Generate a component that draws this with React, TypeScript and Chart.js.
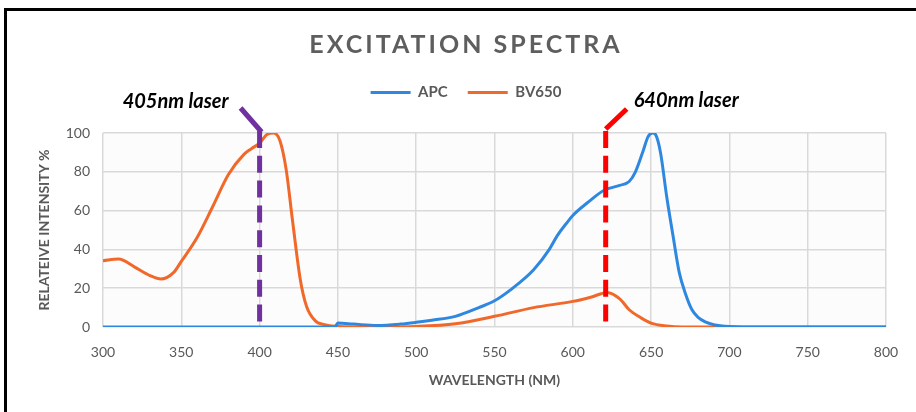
import React, { useEffect, useRef } from "react";
import { Chart, registerables } from "chart.js";

Chart.register(...registerables);

// ---- data ----
const CHART_TITLE = "EXCITATION SPECTRA";
const X_TITLE = "WAVELENGTH (NM)";
const Y_TITLE = "RELATEIVE INTENSITY %";
const SERIES_NAMES = ["APC", "BV650"];
const SERIES_COLORS = ["#2f88e0", "#f0692a"];

const APC_WL = [300, 448, 450, 460, 475, 490, 500, 510, 525, 540, 550, 560, 575, 585, 590, 596, 600, 610, 620, 630, 636, 640, 645, 648, 651, 653, 656, 660, 664, 668, 672, 676, 680, 685, 690, 700, 720, 800];
const APC_VAL = [0, 0, 2, 1.5, 0.8, 1.5, 2.4, 3.5, 5.5, 10, 13.5, 19, 29.5, 40, 47, 53.5, 57.5, 64.5, 70.5, 73, 75, 80, 91, 98, 100, 99, 90, 67, 47, 28, 17, 9, 5, 2.5, 1.2, 0.3, 0, 0];

const BV_WL = [300, 310, 320, 330, 337, 345, 350, 360, 370, 380, 390, 395, 400, 405, 409, 413, 417, 421, 426, 430, 436, 440, 450, 475, 500, 525, 550, 575, 600, 612, 622, 630, 636, 643, 650, 660, 670, 700, 800];
const BV_VAL = [34.2, 35, 31, 26.5, 24.7, 28, 33.8, 46, 62, 78.5, 89, 92, 94.8, 99.4, 100, 96, 81, 55, 24.4, 10.6, 2.9, 1.5, 0.3, 0, 0.3, 1.7, 5.5, 10, 13.2, 15.5, 17.8, 14.5, 8.9, 5, 2, 0.5, 0, 0, 0];

const LASER_WL = [400, 621];
const LASER_LABELS = ["405nm laser", "640nm laser"];
const LASER_COLORS = ["#7030a0", "#ff0000"];

const X_MIN = 300;
const X_MAX = 800;
const X_STEP = 50;
const Y_MIN = 0;
const Y_MAX = 100;
const Y_STEP = 20;

const FONT = "Lato, 'Open Sans', sans-serif";
const GREY = "#595959";

export default function App() {
  const ref = useRef<HTMLCanvasElement | null>(null);

  useEffect(() => {
    if (!ref.current) return;

    const bgPlugin = {
      id: "bgPlugin",
      beforeDraw(chart: any) {
        const { ctx, chartArea } = chart;
        ctx.save();
        ctx.fillStyle = "#fcfcfc";
        ctx.fillRect(chartArea.left, chartArea.top, chartArea.right - chartArea.left, chartArea.bottom - chartArea.top);
        ctx.restore();
      },
    };

    const legendLayout = {
      id: "legendLayout",
      beforeInit(chart: any) {
        const lg = chart.legend;
        const orig = lg.fit;
        lg.fit = function () {
          orig.call(this);
          this.height = 133;
        };
      },
      afterLayout(chart: any) {
        const lg = chart.legend;
        const dx = 466 - (lg.left + lg.right) / 2;
        lg.left += dx;
        lg.right += dx;
        lg.top += 65;
        lg.bottom += 65;
      },
    };

    const titlePlugin = {
      id: "titlePlugin",
      afterDraw(chart: any) {
        const { ctx } = chart;
        ctx.save();
        (ctx as any).letterSpacing = "3px";
        ctx.font = `bold 25px ${FONT}`;
        ctx.fillStyle = "#5e5e5e";
        ctx.textAlign = "center";
        ctx.textBaseline = "alphabetic";
        ctx.fillText(CHART_TITLE, 466, 53);
        ctx.restore();
      },
    };

    const laserPlugin = {
      id: "laserPlugin",
      afterDatasetsDraw(chart: any) {
        const { ctx, scales } = chart;
        const xs = scales.x;
        const ys = scales.y;
        const top = ys.getPixelForValue(Y_MAX);
        const bottom = ys.getPixelForValue(Y_MIN);
        LASER_WL.forEach((wl, i) => {
          const x = xs.getPixelForValue(wl);
          const dir = i === 0 ? -1 : 1;
          ctx.save();
          ctx.strokeStyle = LASER_COLORS[i];
          ctx.lineWidth = 5;
          ctx.setLineDash([17, 7.8]);
          ctx.beginPath();
          ctx.moveTo(x, top - 2);
          ctx.lineTo(x, bottom - 5);
          ctx.stroke();
          ctx.setLineDash([]);
          ctx.beginPath();
          if (dir < 0) {
            ctx.moveTo(x + 2, top - 1);
            ctx.lineTo(x - 19, top - 25);
          } else {
            ctx.moveTo(x, top - 4);
            ctx.lineTo(x + 21, top - 24);
          }
          ctx.stroke();
          ctx.font = `italic bold 20px ${FONT}`;
          ctx.fillStyle = "#000";
          ctx.textBaseline = "alphabetic";
          if (dir < 0) {
            ctx.textAlign = "right";
            ctx.fillText(LASER_LABELS[i], x - 31, top - 25);
          } else {
            ctx.textAlign = "left";
            ctx.fillText(LASER_LABELS[i], x + 28, top - 26);
          }
          ctx.restore();
        });
      },
    };

    const chart = new Chart(ref.current, {
      type: "line",
      data: {
        datasets: [
          {
            label: SERIES_NAMES[0],
            data: APC_WL.map((w, i) => ({ x: w, y: APC_VAL[i] })),
            borderColor: SERIES_COLORS[0],
            backgroundColor: SERIES_COLORS[0],
            borderWidth: 3,
            pointRadius: 0,
            cubicInterpolationMode: "monotone",
          },
          {
            label: SERIES_NAMES[1],
            data: BV_WL.map((w, i) => ({ x: w, y: BV_VAL[i] })),
            borderColor: SERIES_COLORS[1],
            backgroundColor: SERIES_COLORS[1],
            borderWidth: 3,
            pointRadius: 0,
            cubicInterpolationMode: "monotone",
          },
        ],
      },
      options: {
        animation: false,
        responsive: false,
        layout: { padding: { top: 0, left: 0, right: 30, bottom: 0 } },
        plugins: {
          title: { display: false },
          tooltip: { enabled: false },
          legend: {
            display: true,
            position: "top",
            labels: {
              usePointStyle: true,
              pointStyle: "line",
              pointStyleWidth: 40,
              boxHeight: 15,
              padding: 20,
              color: GREY,
              font: { family: FONT, size: 15, weight: "bold" },
            },
          },
        },
        scales: {
          x: {
            type: "linear",
            min: X_MIN,
            max: X_MAX,
            ticks: {
              stepSize: X_STEP,
              padding: 17,
              color: GREY,
              font: { family: FONT, size: 14 },
            },
            grid: { color: "#d9d9d9", lineWidth: 1.5, drawTicks: false },
            border: { display: false },
            title: {
              display: true,
              text: X_TITLE,
              color: GREY,
              padding: 23,
              font: { family: FONT, size: 14, weight: "bold" },
            },
            afterFit(scale: any) {
              scale.height = 85;
            },
          },
          y: {
            min: Y_MIN,
            max: Y_MAX,
            ticks: {
              stepSize: Y_STEP,
              padding: 13,
              color: GREY,
              font: { family: FONT, size: 14 },
            },
            grid: { color: "#d9d9d9", lineWidth: 1.5, drawTicks: false },
            border: { display: false },
            title: {
              display: true,
              text: Y_TITLE,
              color: GREY,
              padding: 36,
              font: { family: FONT, size: 14, weight: "bold" },
            },
            afterFit(scale: any) {
              scale.width = 103;
            },
          },
        },
      },
      plugins: [bgPlugin, legendLayout, titlePlugin, laserPlugin],
    } as any);

    return () => chart.destroy();
  }, []);

  return (
    <div style={{ position: "fixed", left: 0, top: 0, width: 916, height: 412, overflow: "hidden", background: "#fff" }}>
      <canvas ref={ref} width={916} height={412} style={{ position: "absolute", left: 0, top: 0, width: 916, height: 412 }} />
      <div
        style={{
          position: "absolute",
          left: 4,
          top: 8,
          width: 1000,
          height: 500,
          borderLeft: "3px solid #000",
          borderTop: "3px solid #000",
          pointerEvents: "none",
        }}
      />
    </div>
  );
}
